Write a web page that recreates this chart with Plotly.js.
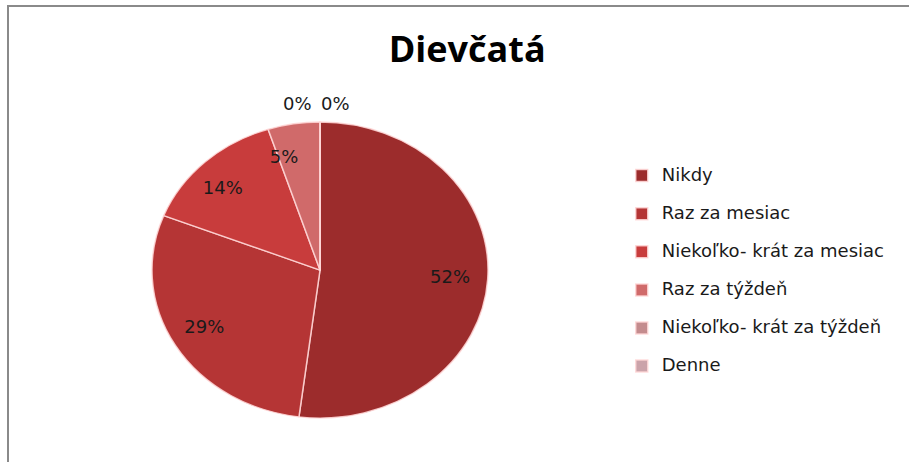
<!DOCTYPE html>
<html>
<head>
<meta charset="utf-8">
<script src="https://cdn.plot.ly/plotly-3.0.1.min.js"></script>
<style>
  body { margin: 0; background: #fff; }
  #wrap { position: relative; width: 909px; height: 462px; overflow: hidden; }
  #chart { position: absolute; left: 0; top: 0; width: 909px; height: 462px; }
  #frame { position: absolute; left: 7px; top: 5px; width: 910px; height: 470px;
           border-left: 2px solid #8a8a8a; border-top: 2px solid #8a8a8a; pointer-events: none; }
</style>
</head>
<body>
<div id="wrap">
  <div id="chart"></div>
  <div id="frame"></div>
</div>
<script>
const chartTitle = "Dievčatá";
const categories = ["Nikdy", "Raz za mesiac", "Niekoľko- krát za mesiac", "Raz za týždeň", "Niekoľko- krát za týždeň", "Denne"];
const values = [52, 29, 14, 5, 0, 0];
const colors = ["#9c2c2c", "#b53535", "#c83c3c", "#d06a6a", "#c48c8e", "#cba3aa"];

const W = 909, H = 462;
const legendLabels = categories.map(c => '<span style="font-size:18px">' + c + '</span><br> ');

// pie geometry (paper fractions); the reference pie is a tilted (elliptical) Excel pie
const pieDomain = { x: [0.1672, 0.5369], y: [0.0519, 0.7792] };
const tilt = 148 / 168;               // vertical squash of the slices
const labelDomain = { x: [0.2365, 0.4675], y: [0.1883, 0.6429] };

// main pie (slices + legend)
const pieTrace = {
  type: "pie",
  labels: legendLabels,
  values: values,
  sort: false,
  direction: "clockwise",
  rotation: 0,
  marker: { colors: colors, line: { color: "rgba(255,215,215,0.85)", width: 1.5 } },
  textinfo: "none",
  domain: pieDomain,
  hoverinfo: "label+percent",
  showlegend: true
};

// smaller transparent pie whose outside labels land where Excel put the percentages
const labelTrace = {
  type: "pie",
  labels: legendLabels,
  values: values,
  sort: false,
  direction: "clockwise",
  rotation: 0,
  marker: { colors: colors.map(() => "rgba(0,0,0,0)"), line: { width: 0 } },
  texttemplate: values.map(v => v > 0 ? "%{value}%" : ""),
  textposition: "outside",
  outsidetextfont: { family: "DejaVu Sans", size: 18, color: "#1a1a1a" },
  domain: labelDomain,
  hoverinfo: "skip",
  showlegend: false
};

// zero-valued slices: labels side by side just above the top of the pie
const zeroIdx = values.map((v, i) => v === 0 ? i : -1).filter(i => i >= 0);
const zeroX = [0.327, 0.369];
const annotations = zeroIdx.map((i, k) => ({
  text: values[i] + "%", xref: "paper", yref: "paper",
  x: zeroX[k], y: 0.775, xanchor: "center", yanchor: "middle", showarrow: false,
  font: { family: "DejaVu Sans", size: 18, color: "#1a1a1a" }
}));

const layout = {
  width: W, height: H,
  margin: { l: 0, r: 0, t: 0, b: 0 },
  paper_bgcolor: "#fff",
  title: { text: "<b>" + chartTitle + "</b>", font: { family: "Open Sans", size: 36, color: "#000" },
           x: 0.514, xanchor: "center", y: 0.893, yanchor: "middle" },
  legend: { x: 0.684, y: 0.653, xanchor: "left", yanchor: "top", valign: "top",
            font: { family: "DejaVu Sans", size: 13.5, color: "#1a1a1a" },
            itemwidth: 30, bgcolor: "rgba(0,0,0,0)" },
  annotations: annotations,
  showlegend: true
};

Plotly.newPlot("chart", [pieTrace, labelTrace], layout, { displayModeBar: false, staticPlot: true })
  .then(gd => {
    // squash the slice group vertically around the pie centre to get the tilted look
    const cy = H * (1 - (pieDomain.y[0] + pieDomain.y[1]) / 2);
    const g = gd.querySelectorAll(".pielayer .trace")[0];
    if (g) g.setAttribute("transform", "translate(0," + (cy * (1 - tilt)) + ") scale(1," + tilt + ")");
  });
</script>
</body>
</html>
